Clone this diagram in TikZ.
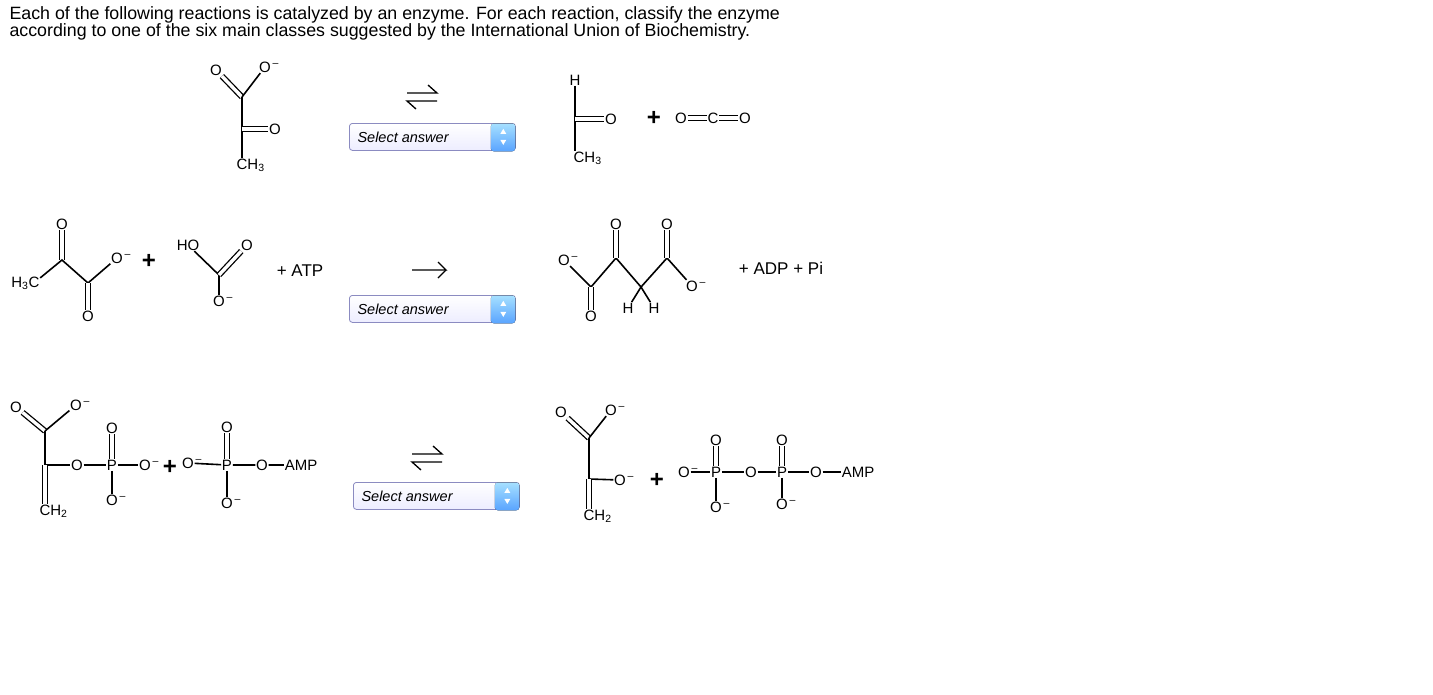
\documentclass[tikz,border=0pt]{standalone}
\usepackage{fontspec}
\setmainfont{Liberation Sans}
\usetikzlibrary{positioning}

\tikzset{
  atom/.style={inner sep=0.6pt, font=\fontsize{15}{15}\selectfont},
  bond/.style={line width=1.6pt},
  dbond/.style={double, double distance=3.4pt, line width=1.3pt},
  plus/.style={font=\fontsize{24}{24}\selectfont\bfseries},
  txt/.style={font=\fontsize{17}{17}\selectfont},
  selbox/.style={draw=blue!30!gray!70, rounded corners=3pt, minimum width=166pt, minimum height=27pt,
    top color=white, bottom color=blue!7, line width=0.8pt}
}
\newcommand{\Om}{O\rlap{\textsuperscript{\,–}}}
\newcommand{\eqarr}[3]{%
  \coordinate (#1) at (#2,#3);
  \draw[line width=1.3pt] ([shift={(-15,-4)}]#1) -- ([shift={(15,-4)}]#1) -- ([shift={(6,-12)}]#1);
  \draw[line width=1.3pt] ([shift={(15,4)}]#1) -- ([shift={(-15,4)}]#1) -- ([shift={(-6,12)}]#1);}
\newcommand{\selectbox}[3]{%
  \node[selbox, anchor=north west] (#1) at (#2,#3) {};
  \node[anchor=west, font=\fontsize{14.5}{14.5}\selectfont\itshape] at ([xshift=5pt]#1.west) {Select answer};
  \fill[top color=blue!35!cyan!35, bottom color=blue!55!cyan!65, rounded corners=3pt]
    ([xshift=-25pt,yshift=-0.5pt]#1.north east) rectangle ([shift={(-0.5,0.5)}]#1.south east);
  \fill[white] ([shift={(-12.5,-8)}]#1.east) -- ++(-3,5) -- ++(6,0) -- cycle;
  \fill[white] ([shift={(-12.5,8)}]#1.east) -- ++(-3,-5) -- ++(6,0) -- cycle;}

\begin{document}
\begin{tikzpicture}[x=1pt,y=-1pt]
  \useasboundingbox (0,0) rectangle (1433,694);
  \node[anchor=north west, align=left, font=\fontsize{17.8}{17.5}\selectfont] (head) at (6,3)
    {Each of the following reactions is catalyzed by an enzyme. For each reaction, classify the enzyme\\
     according to one of the six main classes suggested by the International Union of Biochemistry.};

  %% reaction 1
  \node[atom] (aO1) at (216,70) {O};
  \node[atom] (aO2) at (265,67) {\Om};
  \coordinate (aC1) at (242,97);
  \coordinate (aC2) at (242,129);
  \node[atom] (aO3) at (275,129) {O};
  \node[atom] (aMe) at (242,165) {C\rlap{H\textsubscript{3}}};
  \draw[dbond] (aC1) -- (aO1);
  \draw[bond] (aC1) -- (aO2);
  \draw[bond] (aC1) -- (aMe);
  \draw[dbond] (aC2) -- (aO3);
  \eqarr{eqa}{422}{97}
  \selectbox{sela}{349}{123}
  \node[atom] (bH) at (575,80) {H};
  \coordinate (bC) at (575,119);
  \node[atom] (bO) at (611,119) {O};
  \node[atom] (bMe) at (579,158) {C\rlap{H\textsubscript{3}}};
  \draw[bond] (bH) -- (bMe.north west -| bH);
  \draw[dbond] (bC) -- (bO);
  \node[plus] (pa) at (654,118) {+};
  \node[atom] (cO1) at (681,118) {O};
  \node[atom] (cC) at (713,118) {C};
  \node[atom] (cO2) at (745,118) {O};
  \draw[dbond] (cO1) -- (cC);
  \draw[dbond] (cC) -- (cO2);

  %% reaction 2
  \node[atom] (dO1) at (62,224) {O};
  \coordinate (dC1) at (62,260);
  \node[atom] (dMe) at (34,283) {\llap{H\textsubscript{3}}C};
  \coordinate (dC2) at (88,283);
  \node[atom] (dO2) at (88,316) {O};
  \node[atom] (dO3) at (117,258) {\Om};
  \draw[dbond] (dC1) -- (dO1);
  \draw[bond] (dMe) -- (dC1) -- (dC2) -- (dO3);
  \draw[dbond] (dC2) -- (dO2);
  \node[plus] (pb) at (149,261) {+};
  \node[atom] (eHO) at (188,245) {HO};
  \coordinate (eC) at (219,275);
  \node[atom] (eO1) at (247,245) {O};
  \node[atom] (eO2) at (219,301) {\Om};
  \draw[bond] (eHO) -- (eC) -- (eO2);
  \draw[dbond] (eC) -- (eO1);
  \node[txt] (atp) at (300,271) {+ ATP};
  \draw[line width=1.3pt] (412,270) -- (446,270) -- (438,262);
  \draw[line width=1.3pt] (446,270) -- (438,278);
  \selectbox{selb}{349}{295}
  \node[atom] (fO1) at (564,260) {\Om};
  \coordinate (fC1) at (591,287);
  \node[atom] (fO2) at (591,316) {O};
  \coordinate (fC2) at (616,258);
  \node[atom] (fO3) at (616,224) {O};
  \coordinate (fC3) at (641,287);
  \node[atom] (fH1) at (628,308) {H};
  \node[atom] (fH2) at (654,308) {H};
  \coordinate (fC4) at (667,258);
  \node[atom] (fO4) at (667,224) {O};
  \node[atom] (fO5) at (692,286) {\Om};
  \draw[bond] (fO1) -- (fC1) -- (fC2) -- (fC3) -- (fC4) -- (fO5);
  \draw[dbond] (fC1) -- (fO2);
  \draw[dbond] (fC2) -- (fO3);
  \draw[dbond] (fC4) -- (fO4);
  \draw[bond] (fC3) -- (fH1);
  \draw[bond] (fC3) -- (fH2);
  \node[txt] (adp) at (781,268) {+ ADP + Pi};

  %% reaction 3
  \node[atom] (gO1) at (16,407) {O};
  \node[atom] (gO2) at (76,405) {\Om};
  \coordinate (gC1) at (45,431);
  \coordinate (gC2) at (45,465);
  \node[atom] (gCH) at (45,511) {C\rlap{H\textsubscript{2}}};
  \node[atom] (gO3) at (77,465) {O};
  \node[atom] (gP) at (112,465) {P};
  \node[atom] (gO4) at (145,465) {\Om};
  \node[atom] (gO5) at (112,428) {O};
  \node[atom] (gO6) at (112,500) {\Om};
  \draw[dbond] (gC1) -- (gO1);
  \draw[bond] (gC1) -- (gO2);
  \draw[bond] (gC1) -- (gC2) -- (gO3) -- (gP) -- (gO4);
  \draw[dbond] (gC2) -- (gCH);
  \draw[dbond] (gP) -- (gO5);
  \draw[bond] (gP) -- (gO6);
  \node[plus] (pc) at (170,467) {+};
  \node[atom] (hO1) at (188,463) {\Om};
  \node[atom] (hP) at (227,465) {P};
  \node[atom] (hO2) at (262,465) {O};
  \node[atom] (hAMP) at (301,465) {AMP};
  \node[atom] (hO3) at (227,427) {O};
  \node[atom] (hO4) at (227,503) {\Om};
  \draw[bond] (hO1) -- (hP) -- (hO2) -- (hAMP);
  \draw[dbond] (hP) -- (hO3);
  \draw[bond] (hP) -- (hO4);
  \eqarr{eqc}{427}{458}
  \selectbox{selc}{353}{482}
  \node[atom] (iO1) at (561,412) {O};
  \node[atom] (iO2) at (611,410) {\Om};
  \coordinate (iC1) at (589,438);
  \coordinate (iC2) at (589,479);
  \node[atom] (iO3) at (620,480) {\Om};
  \node[atom] (iCH) at (589,516) {C\rlap{H\textsubscript{2}}};
  \draw[dbond] (iC1) -- (iO1);
  \draw[bond] (iC1) -- (iO2);
  \draw[bond] (iC1) -- (iC2) -- (iO3);
  \draw[dbond] (iC2) -- (iCH);
  \node[plus] (pd) at (657,480) {+};
  \node[atom] (jO1) at (684,472) {\Om};
  \node[atom] (jP1) at (716,472) {P};
  \node[atom] (jO2) at (751,472) {O};
  \node[atom] (jP2) at (782,472) {P};
  \node[atom] (jO3) at (816,472) {O};
  \node[atom] (jAMP) at (858,472) {AMP};
  \node[atom] (jO4) at (716,440) {O};
  \node[atom] (jO5) at (716,507) {\Om};
  \node[atom] (jO6) at (782,440) {O};
  \node[atom] (jO7) at (782,504) {\Om};
  \draw[bond] (jO1) -- (jP1) -- (jO2) -- (jP2) -- (jO3) -- (jAMP);
  \draw[dbond] (jP1) -- (jO4);
  \draw[dbond] (jP2) -- (jO6);
  \draw[bond] (jP1) -- (jO5);
  \draw[bond] (jP2) -- (jO7);
\end{tikzpicture}
\end{document}
